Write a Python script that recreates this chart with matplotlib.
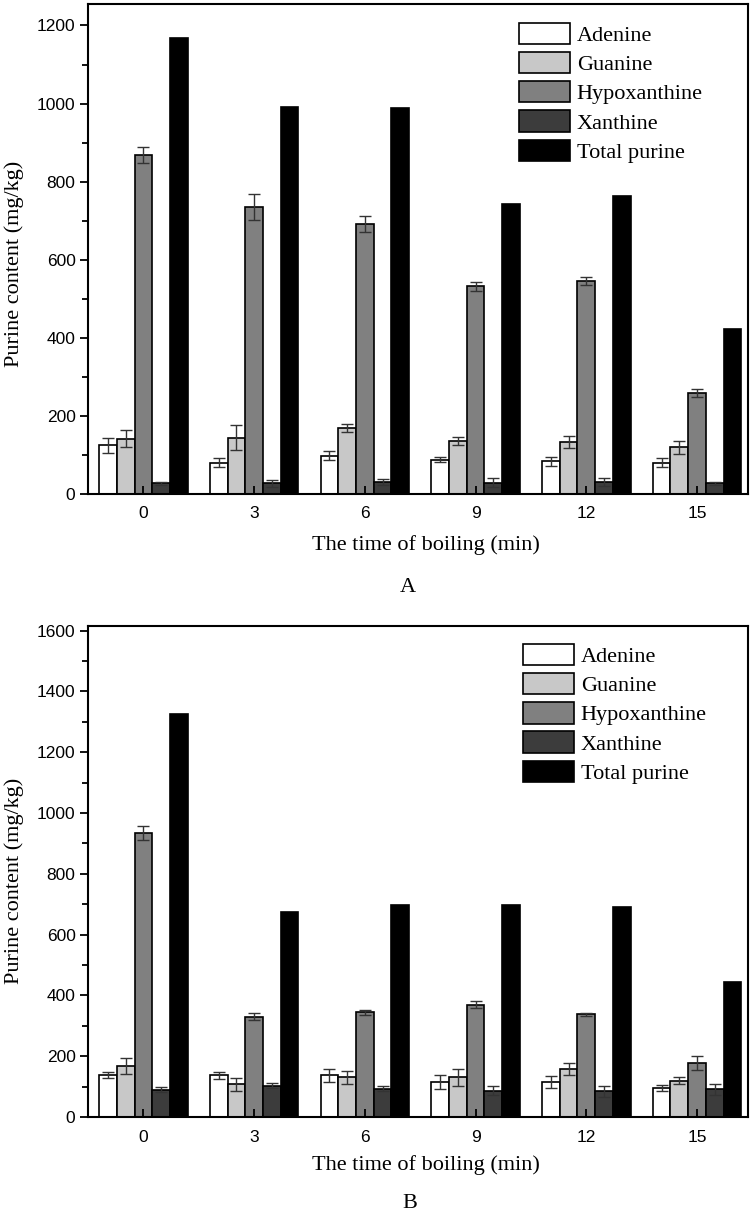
import numpy as np
import matplotlib
matplotlib.use("Agg")
import matplotlib.pyplot as plt
from matplotlib.ticker import MultipleLocator

# boiling time groups
times = ["0", "3", "6", "9", "12", "15"]
names = ["Adenine", "Guanine", "Hypoxanthine", "Xanthine", "Total purine"]
colors = ["#ffffff", "#c8c8c8", "#808080", "#3c3c3c", "#000000"]

# panel A (mg/kg) and errors
a_adenine = [125, 80, 98, 88, 84, 80]
a_guanine = [142, 144, 169, 136, 133, 120]
a_hypox = [868, 736, 692, 532, 545, 258]
a_xanthine = [27, 28, 31, 29, 31, 27]
a_total = [1167, 990, 989, 742, 762, 423]
a_adenine_err = [19, 11, 12, 6, 12, 11]
a_guanine_err = [22, 32, 11, 11, 16, 17]
a_hypox_err = [21, 33, 21, 12, 10, 10]
a_xanthine_err = [4, 9, 8, 11, 10, 4]

# panel B (mg/kg) and errors
b_adenine = [139, 137, 137, 115, 116, 94]
b_guanine = [167, 108, 130, 131, 157, 119]
b_hypox = [934, 330, 344, 370, 338, 177]
b_xanthine = [90, 103, 93, 87, 85, 92]
b_total = [1327, 674, 697, 698, 690, 443]
b_adenine_err = [10, 11, 22, 22, 20, 10]
b_guanine_err = [27, 21, 22, 28, 20, 11]
b_hypox_err = [22, 12, 8, 10, 5, 23]
b_xanthine_err = [9, 8, 8, 16, 18, 18]

SERIF = "Liberation Serif"
SANS = "Liberation Sans"
W = 0.16


def panel(ax, vals, errs, ymax, ystep, leg_anchor, ylab_y, xlab_y):
    x = np.arange(len(times))
    for i, (v, c, n) in enumerate(zip(vals, colors, names)):
        e = errs[i] if i < len(errs) else None
        ax.bar(x + (i - 2) * W, v, W, color=c, edgecolor="black", linewidth=1.2,
               label=n, yerr=e, capsize=4,
               error_kw=dict(elinewidth=1.0, ecolor="#333333", capthick=1.0), zorder=1)
    ax.set_xlim(-0.5, 5.46)
    ax.set_ylim(0, ymax)
    ax.set_xticks(x)
    ax.set_xticklabels(times)
    ax.yaxis.set_major_locator(MultipleLocator(ystep))
    ax.yaxis.set_minor_locator(MultipleLocator(ystep / 2))
    ax.tick_params(axis="x", direction="in", length=6, width=1.3, pad=9, labelsize=12.5,
                   top=False)
    ax.tick_params(axis="y", which="major", direction="out", length=6, width=1.3,
                   labelsize=12.5, pad=3)
    ax.tick_params(axis="y", which="minor", direction="out", length=4, width=1.3)
    for lab in ax.get_xticklabels() + ax.get_yticklabels():
        lab.set_family(SANS)
    for sp in ax.spines.values():
        sp.set_linewidth(1.5)
    ax.set_ylabel("Purine content (mg/kg)", family=SERIF, fontsize=16)
    ax.yaxis.set_label_coords(-0.097, ylab_y)
    ax.set_xlabel("The time of boiling (min)", family=SERIF, fontsize=16)
    ax.xaxis.set_label_coords(0.512, xlab_y)
    ax.legend(loc="upper left", bbox_to_anchor=leg_anchor, frameon=False,
              prop={"family": SERIF, "size": 16}, handlelength=2.3, handleheight=1.1,
              labelspacing=0.27, handletextpad=0.32, borderaxespad=0)


fig = plt.figure(figsize=(7.53, 12.22), dpi=100)
ax1 = fig.add_axes([88 / 753, 1 - 494 / 1222, 660 / 753, 490 / 1222])
ax2 = fig.add_axes([88 / 753, 1 - 1117 / 1222, 660 / 753, 491 / 1222])

panel(ax1, [a_adenine, a_guanine, a_hypox, a_xanthine, a_total],
      [a_adenine_err, a_guanine_err, a_hypox_err, a_xanthine_err], 1255, 200,
      (0.639, 0.98), 0.47, -0.084)
panel(ax2, [b_adenine, b_guanine, b_hypox, b_xanthine, b_total],
      [b_adenine_err, b_guanine_err, b_hypox_err, b_xanthine_err], 1615, 200,
      (0.645, 0.982), 0.48, -0.078)

fig.text(408 / 753, 1 - 588 / 1222, "A", family=SERIF, fontsize=16, ha="center", va="center")
fig.text(410 / 753, 1 - 1203 / 1222, "B", family=SERIF, fontsize=16, ha="center", va="center")

fig.savefig("out.png", dpi=100)
